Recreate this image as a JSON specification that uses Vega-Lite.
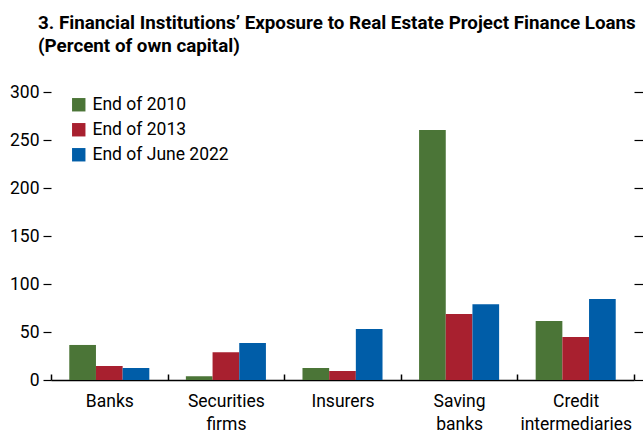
{
  "$schema": "https://vega.github.io/schema/vega-lite/v6.json",
  "width": 583,
  "height": 288,
  "autosize": "none",
  "padding": {"left": 51, "top": 92, "right": 9, "bottom": 55},
  "background": "white",
  "title": {
    "text": ["3. Financial Institutions’ Exposure to Real Estate Project Finance Loans", "(Percent of own capital)"],
    "anchor": "start",
    "frame": "group",
    "dx": -13,
    "offset": 27,
    "font": "Roboto",
    "fontSize": 18.8,
    "fontWeight": "bold",
    "lineHeight": 23,
    "color": "#000000"
  },
  "config": {
    "view": {"stroke": null},
    "font": "Roboto"
  },
  "data": {
    "values": [
      {"category": "Banks", "series": "End of 2010", "value": 36.5},
      {"category": "Banks", "series": "End of 2013", "value": 14.6},
      {"category": "Banks", "series": "End of June 2022", "value": 12.5},
      {"category": "Securities firms", "series": "End of 2010", "value": 4},
      {"category": "Securities firms", "series": "End of 2013", "value": 29},
      {"category": "Securities firms", "series": "End of June 2022", "value": 38.5},
      {"category": "Insurers", "series": "End of 2010", "value": 12.5},
      {"category": "Insurers", "series": "End of 2013", "value": 9.4},
      {"category": "Insurers", "series": "End of June 2022", "value": 53},
      {"category": "Saving banks", "series": "End of 2010", "value": 260.5},
      {"category": "Saving banks", "series": "End of 2013", "value": 68.8},
      {"category": "Saving banks", "series": "End of June 2022", "value": 79},
      {"category": "Credit intermediaries", "series": "End of 2010", "value": 61.5},
      {"category": "Credit intermediaries", "series": "End of 2013", "value": 44.8},
      {"category": "Credit intermediaries", "series": "End of June 2022", "value": 84.4}
    ]
  },
  "layer": [
    {
      "mark": {"type": "bar"},
      "encoding": {
        "x": {
          "field": "category",
          "type": "nominal",
          "sort": ["Banks", "Securities firms", "Insurers", "Saving banks", "Credit intermediaries"],
          "scale": {"paddingInner": 0, "paddingOuter": 0},
          "axis": {
            "title": null,
            "labelAngle": 0,
            "labelExpr": "split(datum.label, ' ')",
            "labelFontSize": 17.5,
            "labelLineHeight": 23,
            "labelColor": "#000000",
            "labelPadding": 18,
            "tickBand": "extent",
            "tickSize": -6,
            "tickColor": "#000000",
            "tickWidth": 1.5,
            "domainColor": "#000000",
            "domainWidth": 1.5,
            "grid": false
          }
        },
        "xOffset": {
          "field": "series",
          "type": "nominal",
          "sort": ["End of 2010", "End of 2013", "End of June 2022"],
          "scale": {"paddingInner": 0, "paddingOuter": 0.685}
        },
        "y": {
          "field": "value",
          "type": "quantitative",
          "scale": {"domain": [0, 300], "nice": false},
          "axis": {
            "title": null,
            "values": [0, 50, 100, 150, 200, 250, 300],
            "grid": false,
            "domain": false,
            "tickSize": 8,
            "tickColor": "#000000",
            "tickWidth": 1.2,
            "labelFontSize": 17.5,
            "labelColor": "#000000",
            "labelPadding": 4
          }
        },
        "color": {
          "field": "series",
          "type": "nominal",
          "scale": {
            "domain": ["End of 2010", "End of 2013", "End of June 2022"],
            "range": ["#4B7537", "#A8202F", "#005DA8"]
          },
          "legend": {
            "title": null,
            "orient": "none",
            "legendX": 19,
            "legendY": 4,
            "symbolType": "square",
            "symbolSize": 180,
            "symbolStrokeWidth": 0,
            "symbolOpacity": 1,
            "labelFontSize": 17.5,
            "labelColor": "#000000",
            "labelOffset": 5,
            "rowPadding": 6
          }
        }
      }
    },
    {
      "mark": {"type": "point", "opacity": 0},
      "encoding": {
        "y": {
          "field": "value",
          "type": "quantitative",
          "scale": {"domain": [0, 300], "nice": false},
          "axis": {
            "orient": "right",
            "title": null,
            "values": [0, 50, 100, 150, 200, 250, 300],
            "labels": false,
            "grid": false,
            "domain": false,
            "tickSize": 9,
            "tickColor": "#000000",
            "tickWidth": 1.2
          }
        }
      }
    }
  ],
  "resolve": {"scale": {"y": "independent"}, "axis": {"y": "independent"}}
}
